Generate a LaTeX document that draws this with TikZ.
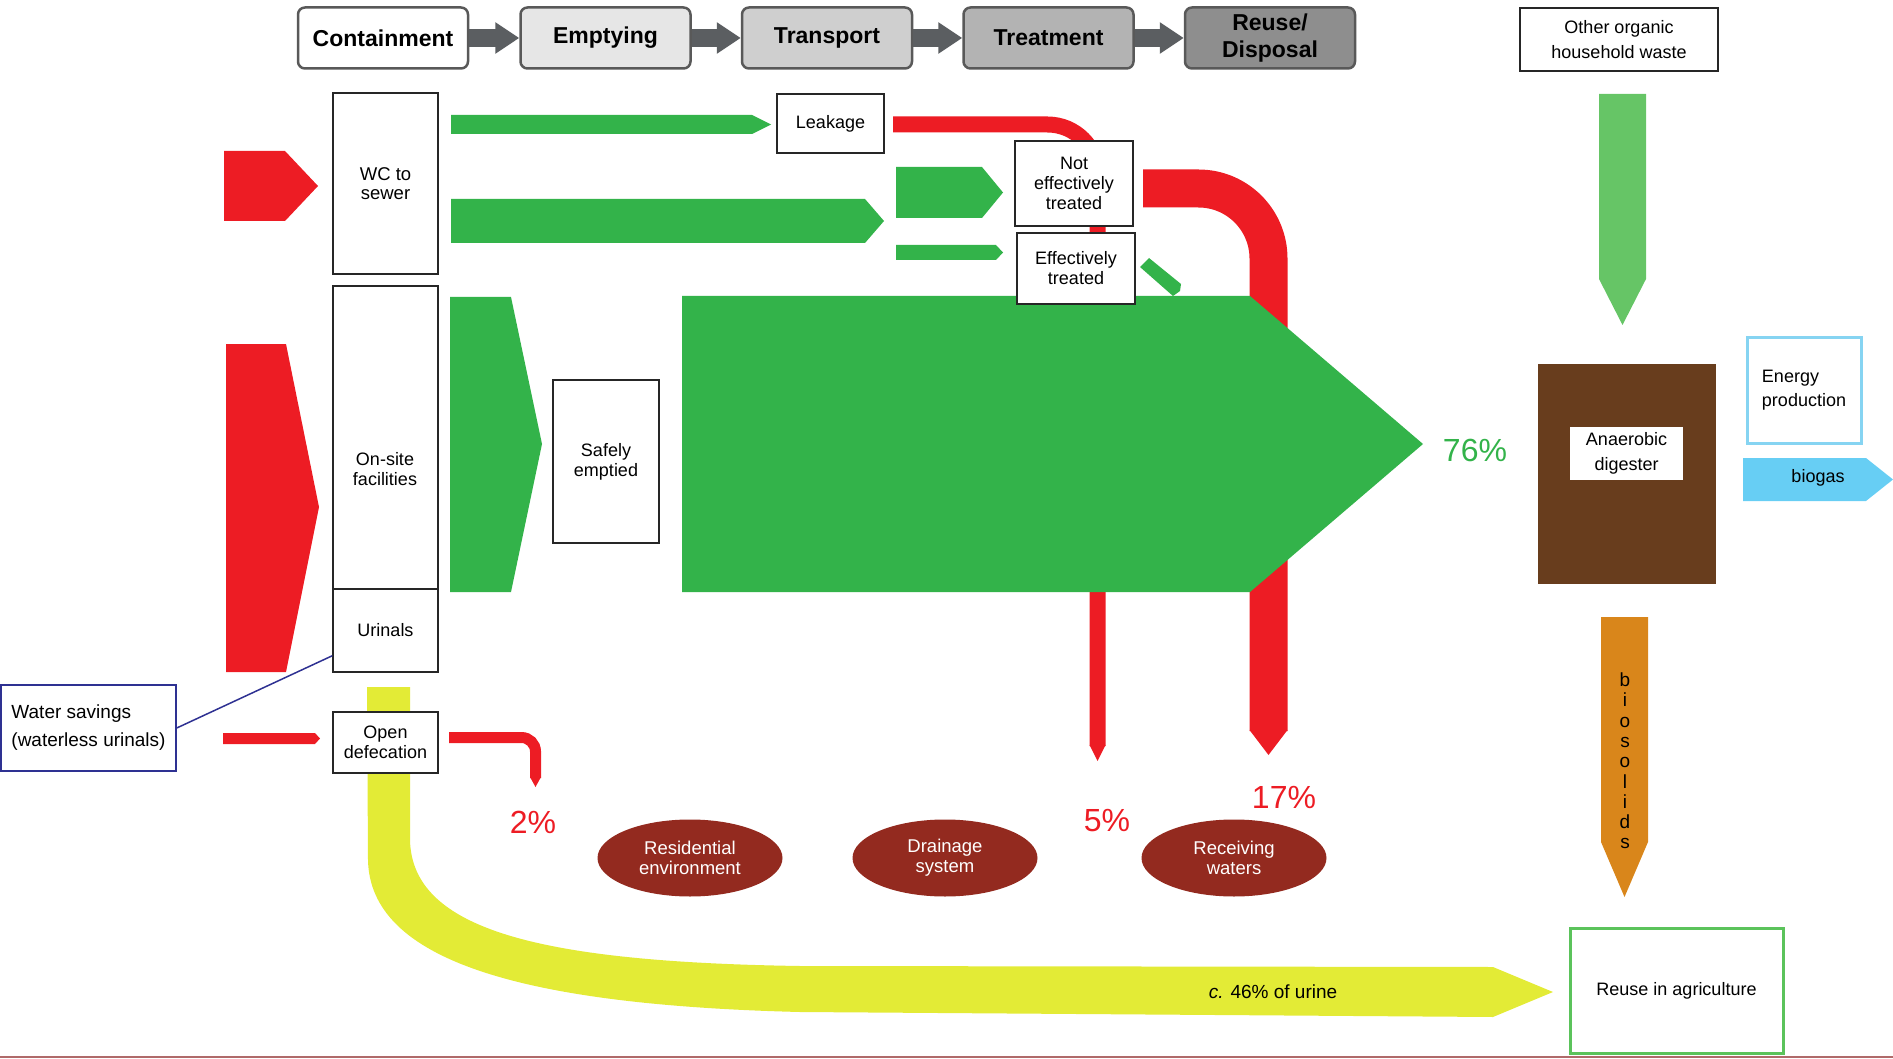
\documentclass[tikz,border=0pt]{standalone}
\usepackage{fontspec}
\setmainfont{Liberation Sans}
\usetikzlibrary{shapes.geometric,arrows.meta}
\definecolor{fred}{HTML}{ED1C24}
\definecolor{fgreen}{HTML}{33B34A}
\definecolor{lgreen}{HTML}{66C566}
\definecolor{fyellow}{HTML}{E3EB36}
\definecolor{ellred}{HTML}{932A1F}
\definecolor{brownd}{HTML}{683D1D}
\definecolor{orng}{HTML}{D9861B}
\definecolor{skyb}{HTML}{67CEF4}
\definecolor{skybd}{HTML}{86D4F2}
\definecolor{agrgreen}{HTML}{5BC35B}
\definecolor{wsblue}{HTML}{2E3192}
\definecolor{hdrline}{HTML}{595959}
\definecolor{hdrarrow}{HTML}{5B5E61}
\definecolor{hgrayA}{HTML}{E6E6E6}
\definecolor{hgrayB}{HTML}{CFCFCF}
\definecolor{hgrayC}{HTML}{B3B3B3}
\definecolor{hgrayD}{HTML}{8E8E8E}
\definecolor{bline}{HTML}{B06A6A}
\begin{document}
\begin{tikzpicture}[x=1pt,y=-1pt,
  lbl/.style={font=\fontsize{18}{20}\selectfont},
  hdr/.style={draw=hdrline, line width=2.5pt, rounded corners=7pt, minimum width=170pt, minimum height=61pt, inner sep=0pt, align=center, font=\fontsize{23}{27}\selectfont\bfseries},
  box/.style={draw=black!85, line width=1.5pt, fill=white, inner sep=0pt, align=center, lbl},
  ell/.style={ellipse, fill=ellred, text=white, minimum width=185pt, minimum height=77pt, inner sep=0pt, align=center, font=\fontsize{18.5}{20}\selectfont},
  pct/.style={font=\fontsize{32}{34}\selectfont, inner sep=0pt},
  hdrflow/.style={hdrarrow, line width=18pt, -{Triangle[length=24pt,width=30pt]}},
]
\useasboundingbox (0,0) rectangle (1893,1059);

% ---------- back layer: red and yellow flows ----------
\draw[fred, line width=16pt, rounded corners=50pt] (893,124.5) -- (1097.5,124.5) -- (1097.5,746);
\fill[fred] (1089.5,745) -- (1105.5,745) -- (1097.5,761) -- cycle;
\draw[fred, line width=38pt, rounded corners=70pt] (1143,188.5) -- (1268.5,188.5) -- (1268.5,731);
\fill[fred] (1249.5,730) -- (1287.5,730) -- (1268.5,755) -- cycle;
\draw[fred, line width=11pt, rounded corners=14pt] (449,737.5) -- (535.5,737.5) -- (535.5,778);
\fill[fred] (530,777) -- (541,777) -- (535.5,787) -- cycle;
\fill[fyellow] (367,687) -- (410,687) -- (410,840) .. controls (412,930) and (540,962) .. (800,966) -- (1493,967) -- (1553,992) -- (1493,1017) -- (800,1012) .. controls (520,1005) and (370,960) .. (368,860) -- cycle;

% ---------- red inflows ----------
\fill[fred] (224,151) -- (285,151) -- (318,186) -- (285,221) -- (224,221) -- cycle;
\fill[fred] (226,344) -- (286,344) -- (319,507) -- (286,672) -- (226,672) -- cycle;
\fill[fred] (223,733) -- (315,733) -- (320,738.5) -- (315,744) -- (223,744) -- cycle;

% ---------- green flows ----------
\fill[fgreen] (451,115) -- (752,115) -- (771,124.5) -- (752,134) -- (451,134) -- cycle;
\fill[fgreen] (451,199) -- (865,199) -- (884,221) -- (865,243) -- (451,243) -- cycle;
\fill[fgreen] (896,167) -- (982,167) -- (1003,192.5) -- (982,218) -- (896,218) -- cycle;
\fill[fgreen] (896,245) -- (996,245) -- (1003,252.5) -- (996,260) -- (896,260) -- cycle;
\fill[fgreen] (1140,267) -- (1149,258) -- (1181,284) -- (1180,291) -- (1173,296) -- cycle;
\fill[fgreen] (450,297) -- (511,297) -- (542,444) -- (511,592) -- (450,592) -- cycle;
\fill[fgreen] (682,296) -- (1250,296) -- (1423,444) -- (1250,592) -- (682,592) -- cycle;

% ---------- right side flows ----------
\fill[lgreen] (1599,94) -- (1646,94) -- (1646,279) -- (1622.5,325) -- (1599,279) -- cycle;
\fill[orng] (1601,617) -- (1648,617) -- (1648,842) -- (1624.5,897) -- (1601,842) -- cycle;
\fill[skyb] (1743,458) -- (1866,458) -- (1893,479.5) -- (1866,501) -- (1743,501) -- cycle;

% ---------- header ----------
\node[hdr, fill=white] (h1) at (383,38) {Containment};
\node[hdr, fill=hgrayA] (h2) at (605.5,38) {Emptying};
\node[hdr, fill=hgrayB] (h3) at (827,38) {Transport};
\node[hdr, fill=hgrayC] (h4) at (1048.5,38) {Treatment};
\node[hdr, fill=hgrayD] (h5) at (1270,38) {Reuse/\\Disposal};
\draw[hdrflow] (h1) -- (h2);
\draw[hdrflow] (h2) -- (h3);
\draw[hdrflow] (h3) -- (h4);
\draw[hdrflow] (h4) -- (h5);

% ---------- boxes ----------
\node[box, minimum width=105pt, minimum height=181pt, font=\fontsize{18.5}{19.5}\selectfont] (wc) at (385.5,183.5) {WC to\\sewer};
\node[box, minimum width=105pt, minimum height=303pt] (onsite) at (385.5,437.5) {};
\node[lbl, align=center, inner sep=0pt] (onsitetxt) at (385,469) {On-site\\ facilities};
\node[box, minimum width=105pt, minimum height=83pt] (urinals) at (385.5,630.5) {Urinals};
\node[box, minimum width=105pt, minimum height=61pt] (opendef) at (385.5,742.5) {Open\\defecation};
\node[box, draw=wsblue, minimum width=175pt, minimum height=86pt, align=left, font=\fontsize{19}{28}\selectfont] (ws) at (88.5,728) {Water savings\\(waterless urinals)};
\draw[wsblue, line width=1.5pt] (ws.east) -- ([yshift=17pt]urinals.south west);

\node[box, minimum width=106pt, minimum height=163pt] (safe) at (606,461.5) {Safely\\emptied};
\node[box, minimum width=107pt, minimum height=59pt] (leak) at (830.5,123.5) {Leakage};
\node[box, minimum width=118pt, minimum height=85pt] (noteff) at (1074,183.5) {Not\\effectively\\treated};
\node[box, minimum width=118pt, minimum height=71pt] (eff) at (1076,268.5) {Effectively\\treated};

\node[box, minimum width=198pt, minimum height=63pt, font=\fontsize{18}{25}\selectfont] (organic) at (1619,39.5) {Other organic\\household waste};
\node[fill=brownd, minimum width=178pt, minimum height=220pt, inner sep=0pt] (digester) at (1627,474) {};
\node[fill=white, minimum width=113pt, minimum height=53pt, inner sep=0pt, align=center, font=\fontsize{18}{25}\selectfont] (digl) at (1626.5,453.5) {Anaerobic\\digester};
\node[box, draw=skybd, line width=3pt, minimum width=114pt, minimum height=105pt, align=left, font=\fontsize{18}{24}\selectfont] (energy) at (1804,390.5) {Energy\\production};
\node[lbl, inner sep=0pt] (biogas) at (1818,478) {biogas};
\node[align=center, font=\fontsize{19}{20.3}\selectfont, inner sep=0pt] (bios) at (1625,761) {b\\i\\o\\s\\o\\l\\i\\d\\s};
\node[box, draw=agrgreen, line width=3pt, minimum width=213pt, minimum height=125pt] (agri) at (1676.5,990.5) {Reuse in agriculture};

% ---------- receivers ----------
\node[ell] (resid) at (690,858) {Residential\\environment};
\node[ell] (drain) at (945,858) {Drainage\\system};
\node[ell] (recv) at (1234,858) {Receiving\\waters};

% ---------- percentages ----------
\node[pct, text=fred] (p2) at (533,822) {2\%};
\node[pct, text=fred] (p5) at (1107,821) {5\%};
\node[pct, text=fred] (p17) at (1284,797) {17\%};
\node[pct, text=fgreen] (p76) at (1475,450) {76\%};
\node[font=\fontsize{19}{20}\selectfont, inner sep=0pt] (urine) at (1273,992) {\textit{c.} 46\% of urine};

\draw[bline, line width=1.5pt] (0,1057) -- (1893,1057);
\end{tikzpicture}
\end{document}
